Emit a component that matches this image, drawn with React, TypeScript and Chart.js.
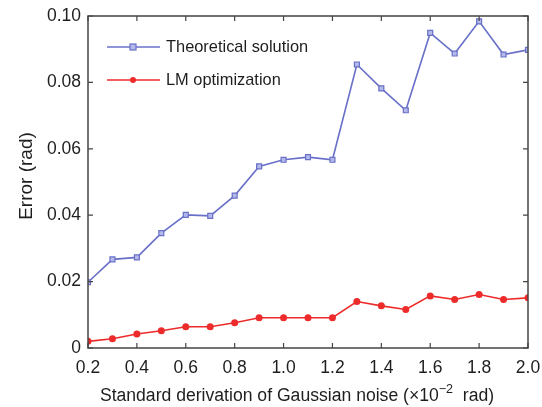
import React, { useEffect, useRef } from "react";
import { Chart, registerables } from "chart.js";

Chart.register(...registerables);

const noiseLevels = [0.2, 0.3, 0.4, 0.5, 0.6, 0.7, 0.8, 0.9, 1.0, 1.1, 1.2, 1.3, 1.4, 1.5, 1.6, 1.7, 1.8, 1.9, 2.0];
const theoreticalError = [0.0198, 0.0267, 0.0273, 0.0346, 0.0401, 0.0398, 0.0459, 0.0547, 0.0567, 0.0575, 0.0567, 0.0854, 0.0782, 0.0716, 0.0949, 0.0887, 0.0984, 0.0884, 0.0898];
const lmError = [0.002, 0.0028, 0.0042, 0.0052, 0.0064, 0.0064, 0.0076, 0.0091, 0.0091, 0.0091, 0.0091, 0.014, 0.0127, 0.0116, 0.0157, 0.0146, 0.0161, 0.0146, 0.0151];
const seriesNames = ["Theoretical solution", "LM optimization"];
const xTitleMain = "Standard derivation of Gaussian noise (\u00d710";
const xTitleSup = "\u22122";
const xTitleEnd = "  rad)";
const yTitle = "Error (rad)";

const FONT = "'Liberation Sans', Arial, Helvetica, sans-serif";
const BLUE = "#6870c8";
const BLUE_FILL = "#b4b9ea";
const RED = "#ee2b2b";
const AXIS = "#444444";
const TEXT = "#1e1e1e";

const decorPlugin = {
  id: "decor",
  afterDraw(chart: any) {
    const ctx = chart.ctx;
    const { left, right, top, bottom } = chart.chartArea;
    const xs = chart.scales.x;
    const ys = chart.scales.y;
    ctx.save();
    // box
    ctx.strokeStyle = AXIS;
    ctx.lineWidth = 1.5;
    ctx.strokeRect(left, top, right - left, bottom - top);
    // inward ticks
    ctx.lineWidth = 1.2;
    const tl = 5;
    xs.ticks.forEach((t: any) => {
      const px = xs.getPixelForValue(t.value);
      ctx.beginPath();
      ctx.moveTo(px, bottom);
      ctx.lineTo(px, bottom - tl);
      ctx.moveTo(px, top);
      ctx.lineTo(px, top + tl);
      ctx.stroke();
    });
    ys.ticks.forEach((t: any) => {
      const py = ys.getPixelForValue(t.value);
      ctx.beginPath();
      ctx.moveTo(left, py);
      ctx.lineTo(left + tl, py);
      ctx.moveTo(right, py);
      ctx.lineTo(right - tl, py);
      ctx.stroke();
    });
    // y title
    ctx.fillStyle = TEXT;
    ctx.font = `19px ${FONT}`;
    ctx.textAlign = "center";
    ctx.textBaseline = "middle";
    ctx.save();
    ctx.translate(27, 176);
    ctx.rotate(-Math.PI / 2);
    ctx.fillText(yTitle, 0, 0);
    ctx.restore();
    // x title with superscript
    ctx.textAlign = "left";
    ctx.textBaseline = "alphabetic";
    ctx.font = `17.6px ${FONT}`;
    const w1 = ctx.measureText(xTitleMain).width;
    const w3 = ctx.measureText(xTitleEnd).width;
    ctx.font = `12.5px ${FONT}`;
    const w2 = ctx.measureText(xTitleSup).width;
    const total = w1 + w2 + w3;
    const x0 = 297 - total / 2;
    const ty = 401;
    ctx.font = `17.6px ${FONT}`;
    ctx.fillText(xTitleMain, x0, ty);
    ctx.font = `12.5px ${FONT}`;
    ctx.fillText(xTitleSup, x0 + w1, ty - 8);
    ctx.font = `17.6px ${FONT}`;
    ctx.fillText(xTitleEnd, x0 + w1 + w2, ty);
    // legend
    const items = [
      { name: seriesNames[0], y: top + 31, color: BLUE, marker: "rect" },
      { name: seriesNames[1], y: top + 64, color: RED, marker: "circle" },
    ];
    items.forEach((it) => {
      ctx.strokeStyle = it.color;
      ctx.lineWidth = 1.6;
      ctx.beginPath();
      ctx.moveTo(left + 19, it.y);
      ctx.lineTo(left + 72, it.y);
      ctx.stroke();
      const mx = left + 45;
      if (it.marker === "rect") {
        ctx.fillStyle = BLUE_FILL;
        ctx.fillRect(mx - 3, it.y - 3, 6, 6);
        ctx.lineWidth = 1.2;
        ctx.strokeRect(mx - 3, it.y - 3, 6, 6);
      } else {
        ctx.fillStyle = RED;
        ctx.beginPath();
        ctx.arc(mx, it.y, 3, 0, Math.PI * 2);
        ctx.fill();
      }
      ctx.fillStyle = TEXT;
      ctx.font = `16.4px ${FONT}`;
      ctx.textBaseline = "middle";
      ctx.fillText(it.name, left + 78, it.y);
    });
    ctx.restore();
  },
};

export default function App() {
  const ref = useRef<HTMLCanvasElement | null>(null);
  useEffect(() => {
    if (!ref.current) return;
    const chart = new Chart(ref.current, {
      type: "line",
      data: {
        datasets: [
          {
            label: seriesNames[0],
            data: noiseLevels.map((x, i) => ({ x, y: theoreticalError[i] })),
            borderColor: BLUE,
            backgroundColor: BLUE_FILL,
            borderWidth: 1.6,
            pointStyle: "rect",
            pointRadius: 3.5,
            pointBorderWidth: 1.2,
            pointBorderColor: BLUE,
            pointBackgroundColor: BLUE_FILL,
            tension: 0,
          },
          {
            label: seriesNames[1],
            data: noiseLevels.map((x, i) => ({ x, y: lmError[i] })),
            borderColor: RED,
            backgroundColor: RED,
            borderWidth: 1.6,
            pointStyle: "circle",
            pointRadius: 3.5,
            pointBorderWidth: 0,
            pointBackgroundColor: RED,
            tension: 0,
          },
        ],
      },
      options: {
        responsive: false,
        animation: false,
        layout: { padding: { top: 16, right: 14, left: 0, bottom: 0 } },
        plugins: { legend: { display: false }, tooltip: { enabled: false } },
        scales: {
          x: {
            type: "linear",
            min: 0.2,
            max: 2.0,
            grid: { display: false, drawTicks: false },
            border: { display: false },
            ticks: {
              stepSize: 0.2,
              padding: 10,
              color: TEXT,
              font: { family: FONT, size: 17.5 },
              maxRotation: 0,
              callback: (v: any) => Number(v).toFixed(1),
            },
            afterFit: (s: any) => {
              s.height = 59;
              s.paddingLeft = 0;
              s.paddingRight = 0;
            },
          },
          y: {
            min: 0,
            max: 0.1,
            grid: { display: false, drawTicks: false },
            border: { display: false },
            ticks: {
              stepSize: 0.02,
              padding: 7,
              color: TEXT,
              font: { family: FONT, size: 17.5 },
              callback: (v: any) => (Number(v) === 0 ? "0" : Number(v).toFixed(2)),
            },
            afterFit: (s: any) => {
              s.width = 88;
              s.paddingTop = 0;
              s.paddingBottom = 0;
            },
          },
        },
      },
      plugins: [decorPlugin],
    } as any);
    return () => chart.destroy();
  }, []);
  return (
    <div style={{ position: "absolute", left: 0, top: 0, width: 542, height: 407, background: "#fff" }}>
      <canvas ref={ref} width={542} height={407} />
    </div>
  );
}
